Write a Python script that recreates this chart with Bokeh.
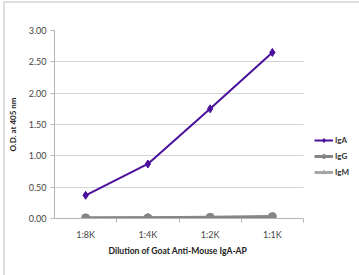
from bokeh.plotting import figure
from bokeh.models import FixedTicker, Legend, LegendItem, Range1d, NumeralTickFormatter, Title
from bokeh.embed import file_html
from bokeh.resources import INLINE

categories = ["1:8K", "1:4K", "1:2K", "1:1K"]
iga = [0.37, 0.87, 1.75, 2.65]
igg = [0.01, 0.01, 0.02, 0.03]
igm = [0.00, 0.01, 0.01, 0.02]
y_ticks = [0.0, 0.5, 1.0, 1.5, 2.0, 2.5, 3.0]

n = len(categories)
xs = [i + 0.5 for i in range(n)]

FONT = "Lato"

# layout: category area is 249px wide; frame extends right to leave room for legend
W, H = 359, 275
LEFT, RIGHT, TOP, BOTTOM = 54, 4, 30, 57
CAT_W = 249
frame_w = W - LEFT - RIGHT
x_end = n * frame_w / CAT_W

p = figure(width=W, height=H, output_backend="svg", toolbar_location=None,
           x_range=Range1d(0, x_end), y_range=Range1d(0, 3.0),
           min_border_left=LEFT, min_border_right=RIGHT, min_border_top=TOP, min_border_bottom=BOTTOM)
p.outline_line_color = None
p.background_fill_color = "white"
p.border_fill_color = None
p.styles = {
    "background": ("linear-gradient(#dedede,#dedede) 3px 1px / 2px 100% no-repeat, "
                   "linear-gradient(#dedede,#dedede) 3px 1px / 100% 2px no-repeat, white"),
}

# grid
p.xgrid.grid_line_color = None
p.ygrid.grid_line_color = "#d4d4d4"
p.ygrid.grid_line_width = 1
p.ygrid.ticker = FixedTicker(ticks=y_ticks)
p.ygrid.cross_bounds = (0, n)

# y axis
p.yaxis.ticker = FixedTicker(ticks=y_ticks)
p.yaxis.formatter = NumeralTickFormatter(format="0.00")
p.yaxis.axis_line_color = "#b5b5b5"
p.yaxis.major_tick_line_color = "#b5b5b5"
p.yaxis.major_tick_out = 4
p.yaxis.major_tick_in = 0
p.yaxis.minor_tick_line_color = None
p.yaxis.major_label_text_font = FONT
p.yaxis.major_label_text_font_size = "9px"
p.yaxis.major_label_text_color = "#444444"
p.yaxis.major_label_standoff = 4
p.yaxis.axis_label = "O.D. at 405 nm"
p.yaxis.axis_label_text_font = FONT
p.yaxis.axis_label_text_font_style = "bold"
p.yaxis.axis_label_text_font_size = "8px"
p.yaxis.axis_label_text_color = "#222222"
p.yaxis.axis_label_standoff = 8

# x axis
p.xaxis.bounds = (0, n)
p.xaxis.ticker = FixedTicker(ticks=xs, minor_ticks=list(range(1, n + 1)))
p.xaxis.major_label_overrides = {x: c for x, c in zip(xs, categories)}
p.xaxis.axis_line_color = "#b5b5b5"
p.xaxis.major_tick_line_color = None
p.xaxis.minor_tick_line_color = "#b5b5b5"
p.xaxis.minor_tick_out = 4
p.xaxis.minor_tick_in = 0
p.xaxis.major_label_text_font = FONT
p.xaxis.major_label_text_font_size = "9px"
p.xaxis.major_label_text_color = "#444444"
p.xaxis.major_label_standoff = 4

x_title = Title(text="Dilution of Goat Anti-Mouse IgA-AP", align="left", offset=54,
                text_font=FONT, text_font_style="bold", text_font_size="8.6px",
                text_color="#222222", standoff=2)
p.add_layout(x_title, "below")

# series
igm_line = p.line(xs, igm, line_color="#a6a6a6", line_width=3)
igm_mark = p.scatter(xs, igm, marker="triangle", size=8, fill_color="#a6a6a6", line_color="#a6a6a6")
igg_line = p.line(xs, igg, line_color="#858585", line_width=3)
igg_mark = p.scatter(xs, igg, marker="circle", size=8, fill_color="#858585", line_color="#858585")
iga_line = p.line(xs, iga, line_color="#4a0f9c", line_width=2)
iga_mark = p.scatter(xs, iga, marker="diamond", size=8, fill_color="#4a0f9c", line_color="#4a0f9c")

legend = Legend(items=[
    LegendItem(label="IgA", renderers=[iga_line, iga_mark]),
    LegendItem(label="IgG", renderers=[igg_line, igg_mark]),
    LegendItem(label="IgM", renderers=[igm_line, igm_mark]),
], location=(260, 41))
legend.border_line_color = None
legend.background_fill_alpha = 0
legend.label_text_font = FONT
legend.label_text_font_style = "bold"
legend.label_text_font_size = "8px"
legend.label_text_color = "#333333"
legend.glyph_width = 19
legend.glyph_height = 10
legend.spacing = 6
legend.padding = 0
legend.margin = 0
legend.label_standoff = 2
legend.label_height = 10
p.add_layout(legend, "center")

open("out.html", "w").write(file_html(p, INLINE))
